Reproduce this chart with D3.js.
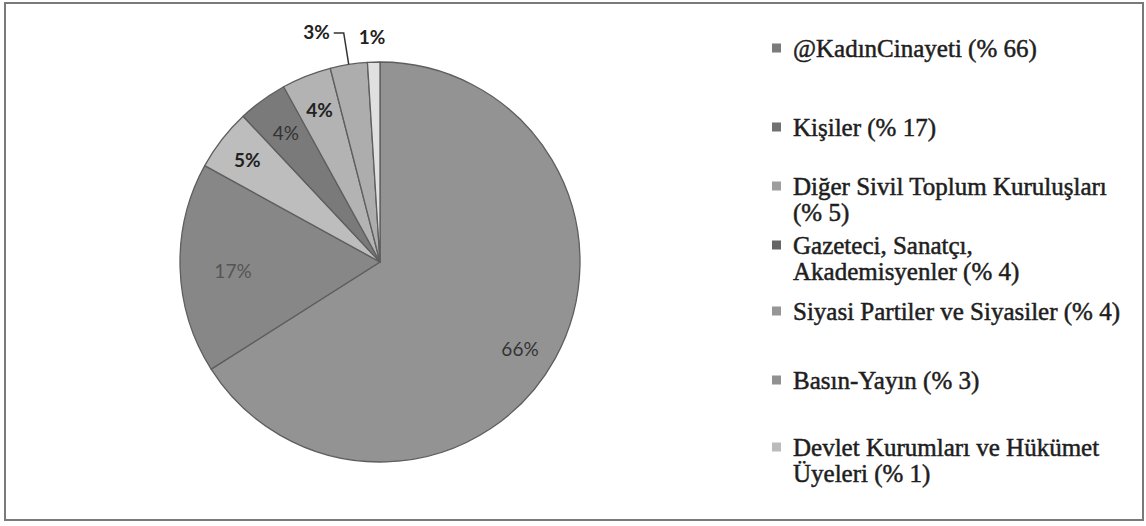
<!DOCTYPE html>
<html lang="tr">
<head>
<meta charset="UTF-8">
<title>Pie</title>
<script src="https://d3js.org/d3.v7.min.js"></script>
<style>
  body { margin: 0; background: #fff; }
</style>
</head>
<body>
<svg width="1146" height="526"></svg>
<script>
// data
const categories = ["@KadınCinayeti", "Kişiler", "Diğer Sivil Toplum Kuruluşları", "Gazeteci, Sanatçı, Akademisyenler",
  "Siyasi Partiler ve Siyasiler", "Basın-Yayın", "Devlet Kurumları ve Hükümet Üyeleri"];
const values = [66, 17, 5, 4, 4, 3, 1];
const legendLines = [
  ["@KadınCinayeti (% 66)"],
  ["Kişiler (% 17)"],
  ["Diğer Sivil Toplum Kuruluşları", "(% 5)"],
  ["Gazeteci, Sanatçı,", "Akademisyenler (% 4)"],
  ["Siyasi Partiler ve Siyasiler (% 4)"],
  ["Basın-Yayın (% 3)"],
  ["Devlet Kurumları ve Hükümet", "Üyeleri (% 1)"]
];
const greys = ["#939393", "#878787", "#bdbdbd", "#7a7a7a", "#b3b3b3", "#adadad", "#e0e0e0"];
const legendY = [48, 127, 186, 245, 311, 380, 447];

const svg = d3.select("svg");

// frame
svg.append("rect").attr("x", 5).attr("y", 3).attr("width", 1138).attr("height", 517)
  .attr("fill", "none").attr("stroke", "#7a7a7a").attr("stroke-width", 2);

const cx = 380, cy = 262, r = 200;
const g = svg.append("g").attr("transform", `translate(${cx},${cy})`);

const pie = d3.pie().sort(null).value(d => d)(values);
const arc = d3.arc().innerRadius(0).outerRadius(r);

g.selectAll("path.slice").data(pie).enter().append("path")
  .attr("class", "slice")
  .attr("d", arc)
  .attr("fill", (d, i) => greys[i])
  .attr("stroke", "#5e5e5e").attr("stroke-width", 1.3)
  .attr("stroke-linejoin", "round");

// inside labels
const labelPos = [
  {r: 0.75, color: "#333", weight: "normal"},
  {r: 0.82, color: "#555", weight: "normal"},
  {r: 0.84, color: "#222", weight: "bold"},
  {r: 0.8, color: "#333", weight: "normal"},
  {r: 0.82, color: "#222", weight: "bold"}
];
labelPos.forEach((p, i) => {
  const d = pie[i];
  const a = (d.startAngle + d.endAngle) / 2;
  let x = Math.sin(a) * r * p.r, y = -Math.cos(a) * r * p.r;
  if (i === 0) { x = 140; y = 86; }
  if (i === 1) { x = -147; y = 8; }
  g.append("text").attr("x", x).attr("y", y)
    .attr("text-anchor", "middle").attr("dominant-baseline", "central")
    .attr("font-family", "Lato, 'Open Sans', sans-serif").attr("font-size", 19)
    .attr("font-weight", p.weight).attr("fill", p.color)
    .text(d3.format(".0f")(values[i]) + "%");
});

// outside labels
const a3 = (pie[5].startAngle + pie[5].endAngle) / 2;
const px = Math.sin(a3) * r, py = -Math.cos(a3) * r;
g.append("path")
  .attr("d", d3.line()([[px, py], [px - 5, -229], [px - 15, -229]]))
  .attr("fill", "none").attr("stroke", "#333").attr("stroke-width", 1.5);
g.append("text").attr("x", px - 19).attr("y", -231).attr("text-anchor", "end")
  .attr("dominant-baseline", "central")
  .attr("font-family", "Lato, sans-serif").attr("font-size", 19).attr("font-weight", "bold")
  .attr("fill", "#222").text(values[5] + "%");
g.append("text").attr("x", -8).attr("y", -226).attr("text-anchor", "middle")
  .attr("dominant-baseline", "central")
  .attr("font-family", "Lato, sans-serif").attr("font-size", 19).attr("font-weight", "bold")
  .attr("fill", "#222").text(values[6] + "%");

// legend
const lg = svg.append("g");
legendLines.forEach((lines, i) => {
  const y = legendY[i];
  lg.append("rect").attr("x", 772).attr("y", y - 4.5).attr("width", 9).attr("height", 9)
    .attr("fill", d3.color(greys[i]).darker(0.5));
  lines.forEach((t, j) => {
    lg.append("text").attr("x", 793).attr("y", y + j * 26)
      .attr("dominant-baseline", "central")
      .attr("font-family", "'Liberation Serif', 'Times New Roman', serif")
      .attr("font-size", 25).attr("fill", "#1e1e1e")
      .attr("stroke", "#1e1e1e").attr("stroke-width", 0.5)
      .text(t);
  });
});
</script>
</body>
</html>
